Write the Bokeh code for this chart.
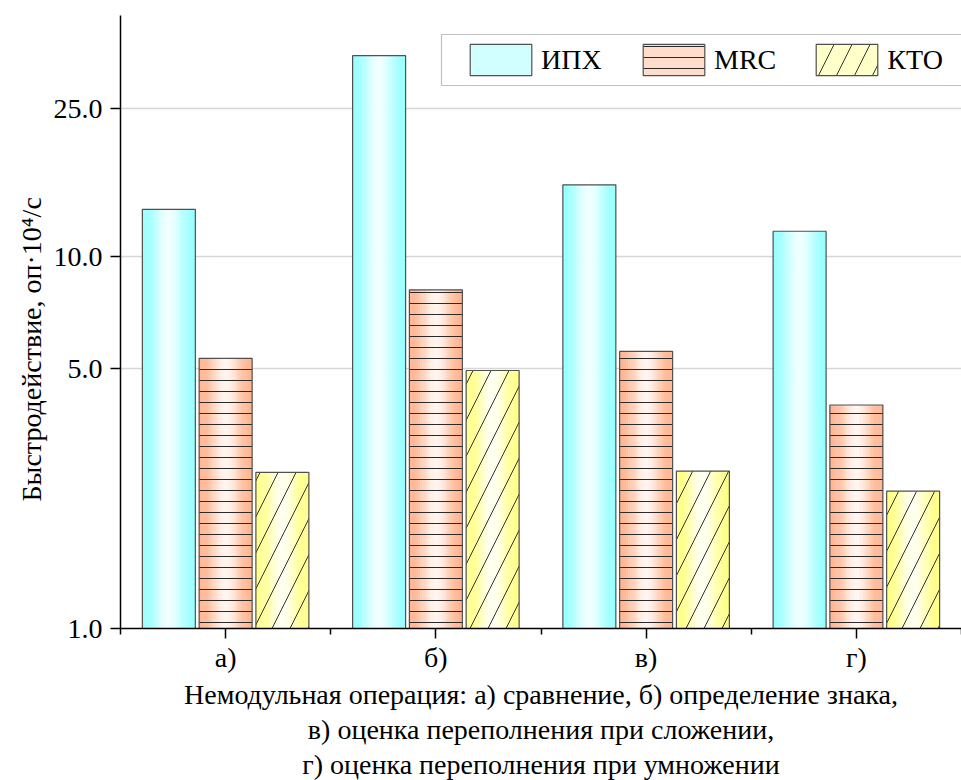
import numpy as np
from bokeh.plotting import figure
from bokeh.models import (ColumnDataSource, FixedTicker, NumeralTickFormatter,
                          Range1d, Legend, LegendItem, BoxAnnotation, Title)
from bokeh.embed import file_html
from bokeh.resources import INLINE

# ---------------- data ----------------
categories = ["а)", "б)", "в)", "г)"]
series_names = ["ИПХ", "MRC", "КТО"]
ipx_values = [13.4, 34.7, 15.6, 11.7]
mrc_values = [5.33, 8.14, 5.56, 3.99]
kto_values = [2.63, 4.94, 2.65, 2.34]
y_ticks = [1, 5, 10, 25]

x_title_lines = ["Немодульная операция: а) сравнение, б) определение знака,",
                 "в) оценка переполнения при сложении,",
                 "г) оценка переполнения при умножении"]
y_title = "Быстродействие, оп·10⁴/с"

FONT = "Liberation Serif, Times New Roman, DejaVu Serif, serif"
FS = "28px"

# ---------------- styles ----------------
edge_colors = [(155, 255, 255), (255, 182, 146), (255, 255, 135)]
center_colors = [(240, 255, 255), (255, 244, 238), (255, 255, 240)]
offsets = [-0.27, 0.0, 0.27]
bar_w = 0.252
N_STRIPS = 24
K_LEGEND = 7

hatch_kw = [
    {},
    dict(hatch_pattern="horizontal_line", hatch_color="#2a2a2a", hatch_scale=11,
         hatch_weight=1.0),
    dict(hatch_pattern="right_diagonal_line", hatch_color="#333333",
         hatch_scale=36, hatch_weight=1.0),
]

p = figure(width=961, height=780, output_backend="svg", toolbar_location=None,
           y_axis_type="log", x_range=Range1d(0, 4), y_range=Range1d(1, 44.5),
           min_border_left=120, min_border_right=0, min_border_top=15,
           min_border_bottom=152)
p.outline_line_color = None
p.background_fill_color = "white"
p.border_fill_color = "white"

# legend outer box
box = BoxAnnotation(left=441, right=1000, top=34, bottom=85,
                    left_units="canvas", right_units="canvas",
                    top_units="canvas", bottom_units="canvas",
                    fill_color="white", fill_alpha=1.0,
                    line_color="#333333", line_width=1.2, level="underlay")
p.add_layout(box)

all_values = [ipx_values, mrc_values, kto_values]
legend_items = []
for s, (name, vals) in enumerate(zip(series_names, all_values)):
    vals = np.asarray(vals, dtype=float)
    n = len(vals)
    centers = np.arange(n) + 0.5 + offsets[s]
    xs, tops, cols = [], [], []
    ec = np.array(edge_colors[s], float)
    cc = np.array(center_colors[s], float)
    order = [K_LEGEND] + [k for k in range(N_STRIPS) if k != K_LEGEND]
    for k in order:
        t = (k + 0.5) / N_STRIPS
        w = np.sin(np.pi * t) ** 2.5
        c = ec + (cc - ec) * w
        col = "#%02x%02x%02x" % tuple(int(round(v)) for v in c)
        for i in range(n):
            xs.append(centers[i] - bar_w / 2 + t * bar_w)
            tops.append(vals[i])
            cols.append(col)
    strip_src = ColumnDataSource(dict(x=xs, top=tops, color=cols))
    r_strip = p.vbar(x="x", top="top", bottom=1, width=bar_w / N_STRIPS * 1.15,
                     source=strip_src, fill_color="color", line_color=None)
    src = ColumnDataSource(dict(x=centers, top=vals))
    r_out = p.vbar(x="x", top="top", bottom=1, width=bar_w, source=src,
                   fill_alpha=0, line_color="#505050", line_width=1.2,
                   **hatch_kw[s])
    legend_items.append(LegendItem(label=name, renderers=[r_strip, r_out], index=0))

legend = Legend(items=legend_items, orientation="horizontal",
                location=(342, 549), padding=9, spacing=32,
                glyph_width=77, glyph_height=39, label_standoff=2,
                label_width=62, border_line_color=None,
                background_fill_alpha=0,
                label_text_font=FONT, label_text_font_size=FS,
                label_text_color="black")
p.add_layout(legend)

# axes
yax = p.yaxis[0]
yax.ticker = FixedTicker(ticks=y_ticks, minor_ticks=[])
yax.formatter = NumeralTickFormatter(format="0.0")
yax.major_tick_out = 10
yax.major_tick_in = 0
yax.minor_tick_out = 0
yax.axis_line_width = 1.5
yax.axis_line_color = "black"
yax.major_tick_line_color = "black"
yax.major_tick_line_width = 1.5
yax.major_label_text_font = FONT
yax.major_label_text_font_size = FS
yax.major_label_text_color = "black"
yax.major_label_standoff = 8

xax = p.xaxis[0]
xax.ticker = FixedTicker(ticks=[0.5, 1.5, 2.5, 3.5], minor_ticks=[0, 1, 2, 3, 4])
xax.major_label_overrides = {0.5: categories[0], 1.5: categories[1],
                             2.5: categories[2], 3.5: categories[3]}
xax.major_tick_out = 10
xax.major_tick_in = 0
xax.minor_tick_out = 6
xax.minor_tick_in = 0
xax.axis_line_width = 1.5
xax.axis_line_color = "black"
xax.major_tick_line_color = "black"
xax.major_tick_line_width = 1.5
xax.minor_tick_line_color = "black"
xax.minor_tick_line_width = 1.5
xax.major_label_text_font = FONT
xax.major_label_text_font_size = FS
xax.major_label_text_color = "black"
xax.major_label_standoff = 3

# axis titles
p.add_layout(Title(text=y_title, align="left", offset=127, standoff=7,
                   text_font=FONT, text_font_size=FS, text_font_style="normal",
                   text_color="black"), "left")
for line in x_title_lines:
    p.add_layout(Title(text=line, align="center", standoff=2,
                       text_font=FONT, text_font_size=FS,
                       text_font_style="normal", text_color="black"), "below")

p.xgrid.grid_line_color = None
p.ygrid.ticker = FixedTicker(ticks=y_ticks, minor_ticks=[])
p.ygrid.grid_line_color = "#d6d6d6"
p.ygrid.grid_line_width = 1.5

open("out.html", "w").write(file_html(p, INLINE))
